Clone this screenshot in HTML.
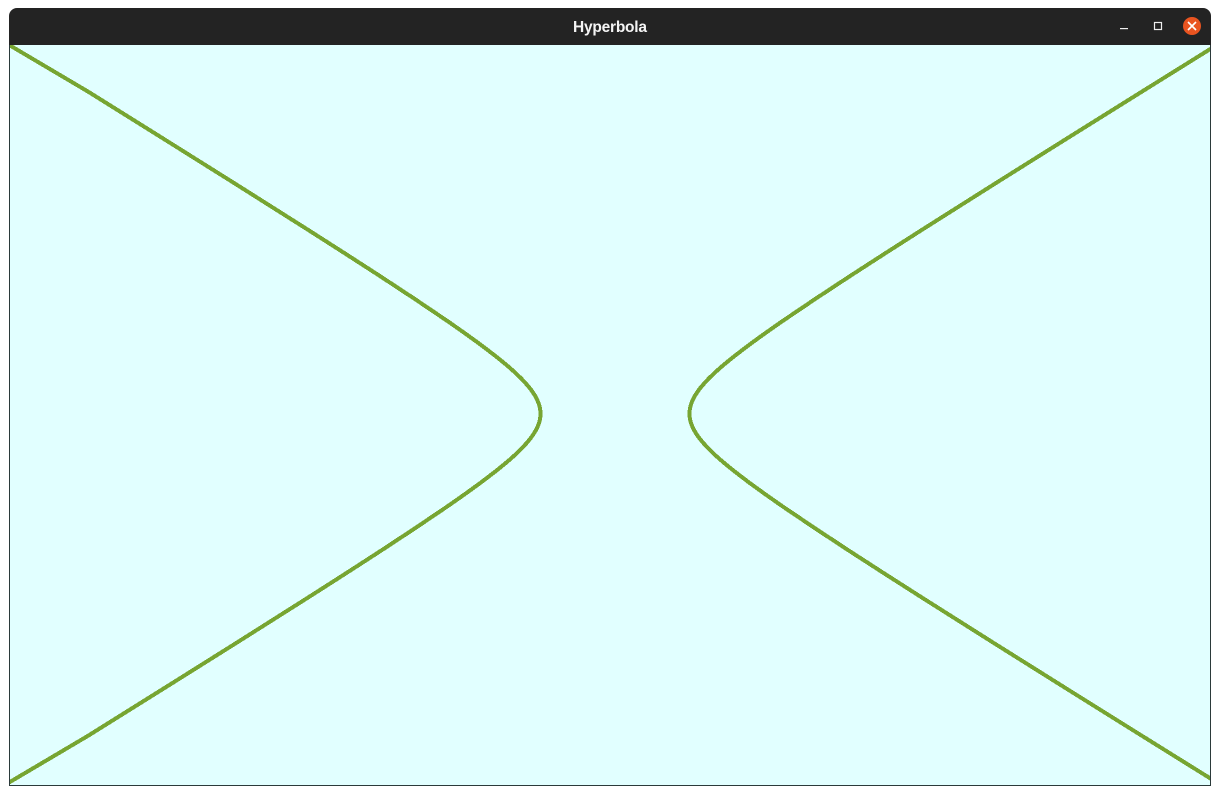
<!DOCTYPE html>
<html lang="en">
<head>
<meta charset="utf-8">
<title>Hyperbola</title>
<style>
html,body{margin:0;padding:0;background:#fff;width:1220px;height:795px;overflow:hidden}
svg{display:block}
</style>
</head>
<body>
<svg id="window" width="1220" height="795" viewBox="0 0 1220 795" xmlns="http://www.w3.org/2000/svg">
  <defs>
    <clipPath id="plot-clip"><rect x="10" y="45" width="1200" height="740"/></clipPath>
  </defs>
  <rect x="9.5" y="44.5" width="1201" height="741" fill="#e1ffff" stroke="#2b3a3a" stroke-width="1"/>
  <path d="M9 45V16a8 8 0 0 1 8-8H1203a8 8 0 0 1 8 8V45Z" fill="#232323"/>
  <text x="610" y="32" text-anchor="middle" font-family="'Liberation Sans',sans-serif" font-weight="700" font-size="15.5" fill="#f4f4f4" textLength="74" lengthAdjust="spacing">Hyperbola</text>
  <rect x="1120" y="28" width="8" height="1.2" fill="#eeeeee"/>
  <rect x="1154.5" y="22.5" width="7" height="7" fill="none" stroke="#eeeeee" stroke-width="1.2"/>
  <circle cx="1192" cy="26" r="9" fill="#e95420"/>
  <path d="M1188 22L1196 30M1196 22L1188 30" stroke="#ffffff" stroke-width="1.6" fill="none"/>
  <g id="curves" clip-path="url(#plot-clip)"></g>
</svg>
<script>
var rightX = [8.062,7.071,6.083,5.099,4.123,3.640,3.162,2.693,2.236,2.016,1.803,1.601,1.487,1.414,1.345,1.281,1.25,1.221,1.193,1.166,1.141,1.118,1.097,1.077,1.059,1.044,1.031,1.020,1.011,1.005,1.0012,1,1.0012,1.005,1.011,1.020,1.031,1.044,1.059,1.077,1.097,1.118,1.141,1.166,1.193,1.221,1.25,1.281,1.345,1.414,1.487,1.601,1.803,2.016,2.236,2.693,3.162,3.640,4.123,5.099,6.083,7.071,8.062];
var rightY = [8,7,6,5,4,3.5,3,2.5,2,1.75,1.5,1.25,1.1,1,0.9,0.8,0.75,0.7,0.65,0.6,0.55,0.5,0.45,0.4,0.35,0.3,0.25,0.2,0.15,0.1,0.05,0,-0.05,-0.1,-0.15,-0.2,-0.25,-0.3,-0.35,-0.4,-0.45,-0.5,-0.55,-0.6,-0.65,-0.7,-0.75,-0.8,-0.9,-1,-1.1,-1.25,-1.5,-1.75,-2,-2.5,-3,-3.5,-4,-5,-6,-7,-8];
var leftX = [-8.22,-7.071,-6.083,-5.099,-4.123,-3.640,-3.162,-2.693,-2.236,-2.016,-1.803,-1.601,-1.487,-1.414,-1.345,-1.281,-1.25,-1.221,-1.193,-1.166,-1.141,-1.118,-1.097,-1.077,-1.059,-1.044,-1.031,-1.020,-1.011,-1.005,-1.0012,-1,-1.0012,-1.005,-1.011,-1.020,-1.031,-1.044,-1.059,-1.077,-1.097,-1.118,-1.141,-1.166,-1.193,-1.221,-1.25,-1.281,-1.345,-1.414,-1.487,-1.601,-1.803,-2.016,-2.236,-2.693,-3.162,-3.640,-4.123,-5.099,-6.083,-7.071,-8.22];
var leftY = [8.1,7,6,5,4,3.5,3,2.5,2,1.75,1.5,1.25,1.1,1,0.9,0.8,0.75,0.7,0.65,0.6,0.55,0.5,0.45,0.4,0.35,0.3,0.25,0.2,0.15,0.1,0.05,0,-0.05,-0.1,-0.15,-0.2,-0.25,-0.3,-0.35,-0.4,-0.45,-0.5,-0.55,-0.6,-0.65,-0.7,-0.75,-0.8,-0.9,-1,-1.1,-1.25,-1.5,-1.75,-2,-2.5,-3,-3.5,-4,-5,-6,-7,-8.1];

function scaleX(v) { return 615 + v * 74.5; }
function scaleY(v) { return 413.7 - v * 46; }

function branchPath(xs, ys) {
  var pts = xs.map(function (x, i) { return [scaleX(x), scaleY(ys[i])]; });
  var d = 'M' + pts[0][0].toFixed(2) + ' ' + pts[0][1].toFixed(2);
  for (var i = 1; i < pts.length; i++) {
    d += 'L' + pts[i][0].toFixed(2) + ' ' + pts[i][1].toFixed(2);
  }
  return d;
}

var group = document.getElementById('curves');
var NS = 'http://www.w3.org/2000/svg';

var leftBranch = document.createElementNS(NS, 'path');


leftBranch.setAttribute('d', branchPath(leftX, leftY));
leftBranch.setAttribute('fill', 'none');
leftBranch.setAttribute('stroke', '#77a532');
leftBranch.setAttribute('stroke-width', '4');
leftBranch.setAttribute('stroke-linejoin', 'round');
leftBranch.setAttribute('shape-rendering', 'crispEdges');
group.appendChild(leftBranch);

var rightBranch = document.createElementNS(NS, 'path');


rightBranch.setAttribute('d', branchPath(rightX, rightY));
rightBranch.setAttribute('fill', 'none');
rightBranch.setAttribute('stroke', '#77a532');
rightBranch.setAttribute('stroke-width', '4');
rightBranch.setAttribute('stroke-linejoin', 'round');
rightBranch.setAttribute('shape-rendering', 'crispEdges');
group.appendChild(rightBranch);
</script>
</body>
</html>
